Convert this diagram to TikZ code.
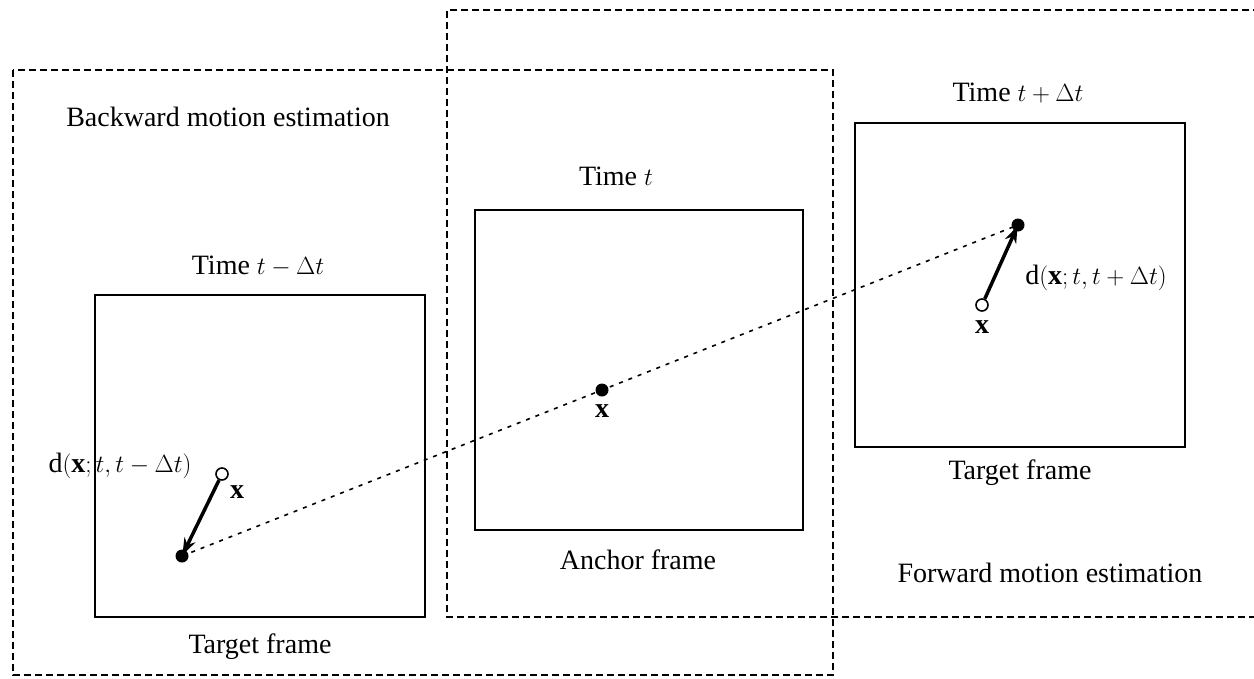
\documentclass[tikz,border=0pt]{standalone}
\usepackage{fontspec}
\setmainfont{Liberation Serif}
\usetikzlibrary{arrows.meta}
\begin{document}
\begin{tikzpicture}[x=1pt,y=-1pt,
  frame/.style={draw, line width=1.8pt, minimum width=330pt, minimum height=322pt, inner sep=0pt},
  region/.style={draw, line width=1.8pt, dash pattern=on 7pt off 4pt},
  lbl/.style={font=\fontsize{28}{32}\selectfont, inner sep=0pt},
  dot/.style={circle, fill, inner sep=0pt, minimum size=13pt},
  odot/.style={circle, draw, line width=1.6pt, fill=white, inner sep=0pt, minimum size=12pt},
  motion/.style={line width=3.5pt, -{Stealth[length=17pt,width=12pt]}, shorten >=1pt},
  track/.style={line width=1.6pt, dash pattern=on 4pt off 6pt}]
\useasboundingbox (0,0) rectangle (1254,678);
% dashed regions
\draw[region] (13,70) rectangle (833,675);
\draw[region] (1260,10) -- (447,10) -- (447,617) -- (1260,617);
% frames
\node[frame] (left) at (260,456) {};
\node[frame, minimum width=328pt, minimum height=320pt] (anchor) at (639,370) {};
\node[frame, minimum height=324pt] (right) at (1020,285) {};
% labels
\node[lbl] (bme) at (228,117) {Backward motion estimation};
\node[lbl] (tc) at (616,176) {Time $t$};
\node[lbl] (tl) at (258,266) {Time $t-\Delta t$};
\node[lbl] (tr) at (1018,93) {Time $t+\Delta t$};
\node[lbl] (tgl) at (260,647) {Target frame};
\node[lbl] (anc) at (638,560) {Anchor frame};
\node[lbl] (tgr) at (1020,473) {Target frame};
\node[lbl] (fme) at (1050,573) {Forward motion estimation};
% points
\node[dot] (pc) at (602,390) {};
\node[lbl] (xc) at (602,411) {$\mathbf{x}$};
\node[dot] (pl) at (182,556) {};
\node[odot] (ol) at (222,474) {};
\node[lbl] (xl) at (237,492) {$\mathbf{x}$};
\node[lbl] (dl) at (120,466) {$\mathrm{d}(\mathbf{x};t,t-\Delta t)$};
\node[dot] (pr) at (1018,225) {};
\node[odot] (or) at (982,305) {};
\node[lbl] (xr) at (982,327) {$\mathbf{x}$};
\node[lbl] (dr) at (1096,278) {$\mathrm{d}(\mathbf{x};t,t+\Delta t)$};
% connectors
\draw[track] (pl.center) -- (pc.center) -- (pr.center);
\draw[motion] (ol) -- (pl.center);
\draw[motion] (or) -- (pr.center);
\end{tikzpicture}
\end{document}
